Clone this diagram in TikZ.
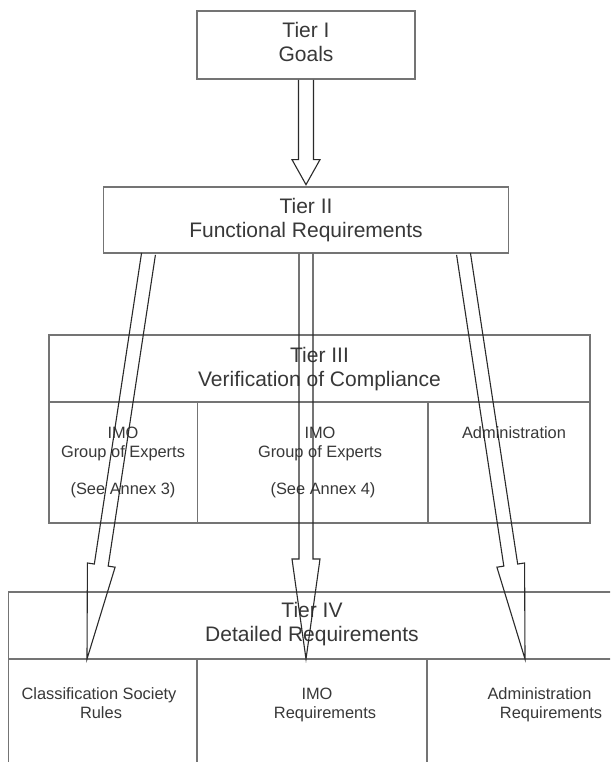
\documentclass[tikz,border=0pt]{standalone}
\usepackage{fontspec}
\setmainfont{Liberation Sans}
\usetikzlibrary{calc}
\definecolor{boxline}{HTML}{747474}
\definecolor{arrline}{HTML}{2A2A2A}
\definecolor{txt}{HTML}{383838}
\newcommand{\tierarrow}[5]{% start, tip, head length, shaft half width, head half width
  \coordinate (hb) at ($(#2)!#3!(#1)$);
  \draw[blockarrow] ($(#1)!#4!90:(#2)$) -- ($(hb)!#4!90:(#2)$) -- ($(hb)!#5!90:(#2)$) -- (#2)
    -- ($(hb)!#5!-90:(#2)$) -- ($(hb)!#4!-90:(#2)$) -- ($(#1)!#4!-90:(#2)$);
}
\begin{document}
\begin{tikzpicture}[x=1pt,y=-1pt,
  tierbox/.style={draw=boxline,line width=1.7pt,rectangle,inner sep=0pt,fill=none},
  cellline/.style={draw=boxline,line width=1.7pt},
  bigtxt/.style={text=txt,font=\fontsize{21}{24}\selectfont,anchor=base,inner sep=0pt},
  smalltxt/.style={text=txt,font=\fontsize{16.4}{19}\selectfont,anchor=base,inner sep=0pt},
  blockarrow/.style={draw=arrline,line width=1.1pt,line join=miter}]
\useasboundingbox (0,0) rectangle (610,762);
\fill[white] (0,0) rectangle (610,762);
\clip (0,0) rectangle (610,762);

% Tier boxes
\node[tierbox,minimum width=218pt,minimum height=68pt] (t1) at (306,45) {};
\node[tierbox,minimum width=405pt,minimum height=66pt] (t2) at (306,220) {};
\node[tierbox,minimum width=541pt,minimum height=188pt] (t3) at (319.5,429) {};
\node[tierbox,minimum width=612pt,minimum height=188pt] (t4) at (314.5,686) {};

% Tier III cells
\draw[cellline] (49,402) -- (590,402);
\draw[cellline] (197.5,402) -- (197.5,523);
\draw[cellline] (428,402) -- (428,523);
% Tier IV cells
\draw[cellline] (8.5,659) -- (620,659);
\draw[cellline] (197,659) -- (197,780);
\draw[cellline] (427,659) -- (427,780);

% Texts
\node[bigtxt] (t1a) at (306,38) {Tier I};
\node[bigtxt] (t1b) at (306,62) {Goals};
\node[bigtxt] (t2a) at (306,213) {Tier II};
\node[bigtxt] (t2b) at (306,237) {Functional Requirements};
\node[bigtxt] (t3a) at (319.5,362) {Tier III};
\node[bigtxt] (t3b) at (319.5,386) {Verification of Compliance};
\node[bigtxt] (t4a) at (312,617) {Tier IV};
\node[bigtxt] (t4b) at (312,641) {Detailed Requirements};

\node[smalltxt] (c1a) at (123,438) {IMO};
\node[smalltxt] (c1b) at (123,457) {Group of Experts};
\node[smalltxt] (c1c) at (123,494) {(See Annex 3)};
\node[smalltxt] (c2a) at (320,438) {IMO};
\node[smalltxt] (c2b) at (320,457) {Group of Experts};
\node[smalltxt] (c2c) at (323,494) {(See Annex 4)};
\node[smalltxt] (c3a) at (514,438) {Administration};

\node[smalltxt] (d1a) at (99,699) {Classification Society};
\node[smalltxt] (d1b) at (101,718) {Rules};
\node[smalltxt] (d2a) at (317,699) {IMO};
\node[smalltxt] (d2b) at (325,718) {Requirements};
\node[smalltxt] (d3a) at (539.5,699) {Administration};
\node[smalltxt] (d3b) at (551,718) {Requirements};

% Arrows
\coordinate (s0) at (t1.south);
\coordinate (e0) at ($(t2.north)+(0,-1.5)$);
\tierarrow{s0}{e0}{25pt}{7.5pt}{14pt}

\coordinate (sL) at ($(t2.south)+(-157.5,0)$);
\coordinate (eL) at (87,659);
\tierarrow{sL}{eL}{95pt}{7pt}{14pt}

\coordinate (sC) at (t2.south);
\coordinate (eC) at (306,659);
\tierarrow{sC}{eC}{100pt}{7pt}{14pt}

\coordinate (sR) at ($(t2.south)+(157.5,0)$);
\coordinate (eR) at (525,659);
\tierarrow{sR}{eR}{95pt}{7pt}{14pt}
\end{tikzpicture}
\end{document}
